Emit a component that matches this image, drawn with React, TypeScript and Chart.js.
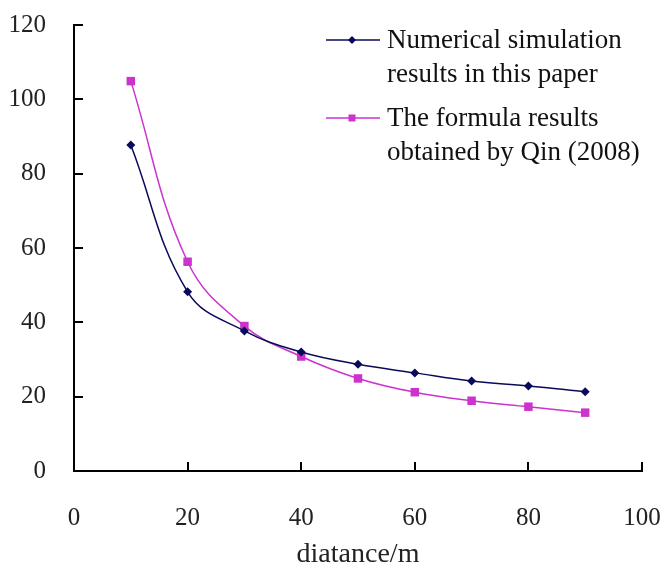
import React, { useEffect, useRef } from 'react';
import { Chart, registerables } from 'chart.js';

Chart.register(...registerables);

const distances = [10, 20, 30, 40, 50, 60, 70, 80, 90];
const numericalValues = [87.7, 48.2, 37.7, 32.0, 28.7, 26.4, 24.2, 22.9, 21.3];
const formulaValues = [104.9, 56.3, 39.0, 30.8, 24.9, 21.2, 18.9, 17.3, 15.7];
const xTicks = [0, 20, 40, 60, 80, 100];
const yTicks = [0, 20, 40, 60, 80, 100, 120];
const numericalLabel = ['Numerical simulation', 'results in this paper'];
const formulaLabel = ['The formula results', 'obtained by Qin (2008)'];
const xTitle = 'diatance/m';

const NAVY = '#0a0a5a';
const MAGENTA = '#cc33cc';
const FONT = "'Liberation Serif', 'Times New Roman', serif";

const innerTicksAndLegend = {
  id: 'innerTicksAndLegend',
  afterDraw(chart: any) {
    const ctx = chart.ctx;
    const xs = chart.scales.x;
    const ys = chart.scales.y;
    const area = chart.chartArea;
    ctx.save();
    ctx.strokeStyle = '#000';
    ctx.lineWidth = 2;
    ctx.beginPath();
    yTicks.forEach((v) => {
      if (v === 0) return;
      const py = Math.round(ys.getPixelForValue(v));
      ctx.moveTo(area.left, py);
      ctx.lineTo(area.left + 9, py);
    });
    xTicks.forEach((v) => {
      if (v === 0) return;
      const px = Math.round(xs.getPixelForValue(v));
      ctx.moveTo(px, area.bottom);
      ctx.lineTo(px, area.bottom - 9);
    });
    ctx.stroke();

    // legend
    const entries = [
      { lines: numericalLabel, color: NAVY, style: 'rectRot', y: 40 },
      { lines: formulaLabel, color: MAGENTA, style: 'rect', y: 118 },
    ];
    ctx.font = `27px ${FONT}`;
    ctx.textBaseline = 'middle';
    ctx.textAlign = 'left';
    entries.forEach((e) => {
      ctx.strokeStyle = e.color;
      ctx.lineWidth = 1.5;
      ctx.beginPath();
      ctx.moveTo(326, e.y);
      ctx.lineTo(380, e.y);
      ctx.stroke();
      ctx.fillStyle = e.color;
      ctx.beginPath();
      if (e.style === 'rect') {
        ctx.rect(352 - 3.5, e.y - 3.5, 7, 7);
      } else {
        ctx.moveTo(352, e.y - 4);
        ctx.lineTo(356, e.y);
        ctx.lineTo(352, e.y + 4);
        ctx.lineTo(348, e.y);
        ctx.closePath();
      }
      ctx.fill();
      ctx.fillStyle = '#111';
      e.lines.forEach((t, i) => {
        ctx.fillText(t, 387, e.y + 1 + i * 34);
      });
    });
    ctx.restore();
  },
};

export default function App() {
  const ref = useRef<HTMLCanvasElement | null>(null);
  useEffect(() => {
    document.body.style.margin = '0';
    const canvas = ref.current;
    if (!canvas) return;
    const chart = new Chart(canvas, {
      type: 'line',
      data: {
        datasets: [
          {
            label: numericalLabel.join(' '),
            data: distances.map((d, i) => ({ x: d, y: numericalValues[i] })),
            borderColor: NAVY,
            backgroundColor: NAVY,
            borderWidth: 1.5,
            pointStyle: 'rectRot',
            pointRadius: 4.5,
            pointBorderWidth: 0,
            tension: 0.4,
            fill: false,
          },
          {
            label: formulaLabel.join(' '),
            data: distances.map((d, i) => ({ x: d, y: formulaValues[i] })),
            borderColor: MAGENTA,
            backgroundColor: MAGENTA,
            borderWidth: 1.5,
            pointStyle: 'rect',
            pointRadius: 6,
            pointBorderWidth: 0,
            tension: 0.4,
            fill: false,
          },
        ],
      },
      options: {
        responsive: false,
        animation: false,
        layout: { padding: { top: 25, right: 23, left: 0, bottom: 0 } },
        plugins: {
          legend: { display: false },
          tooltip: { enabled: false },
        },
        scales: {
          x: {
            type: 'linear',
            min: 0,
            max: 100,
            afterBuildTicks: (s: any) => {
              s.ticks = xTicks.map((v) => ({ value: v }));
            },
            afterFit: (s: any) => {
              s.height = 100;
              s.paddingLeft = 0;
              s.paddingRight = 0;
            },
            grid: { display: false },
            border: { display: true, color: '#000', width: 2 },
            ticks: {
              padding: 24,
              color: '#222',
              font: { family: FONT, size: 25 },
              maxRotation: 0,
            },
            title: {
              display: true,
              text: xTitle,
              color: '#222',
              font: { family: FONT, size: 28 },
              padding: { top: 0, bottom: 0 },
            },
          },
          y: {
            type: 'linear',
            min: 0,
            max: 120,
            afterBuildTicks: (s: any) => {
              s.ticks = yTicks.map((v) => ({ value: v }));
            },
            afterFit: (s: any) => {
              s.width = 74;
              s.paddingTop = 0;
              s.paddingBottom = 0;
            },
            grid: { display: false },
            border: { display: true, color: '#000', width: 2 },
            ticks: {
              padding: 20,
              color: '#222',
              font: { family: FONT, size: 25 },
            },
          },
        },
      },
      plugins: [innerTicksAndLegend],
    });
    return () => chart.destroy();
  }, []);
  return <canvas ref={ref} width={665} height={571} style={{ display: 'block' }} />;
}
